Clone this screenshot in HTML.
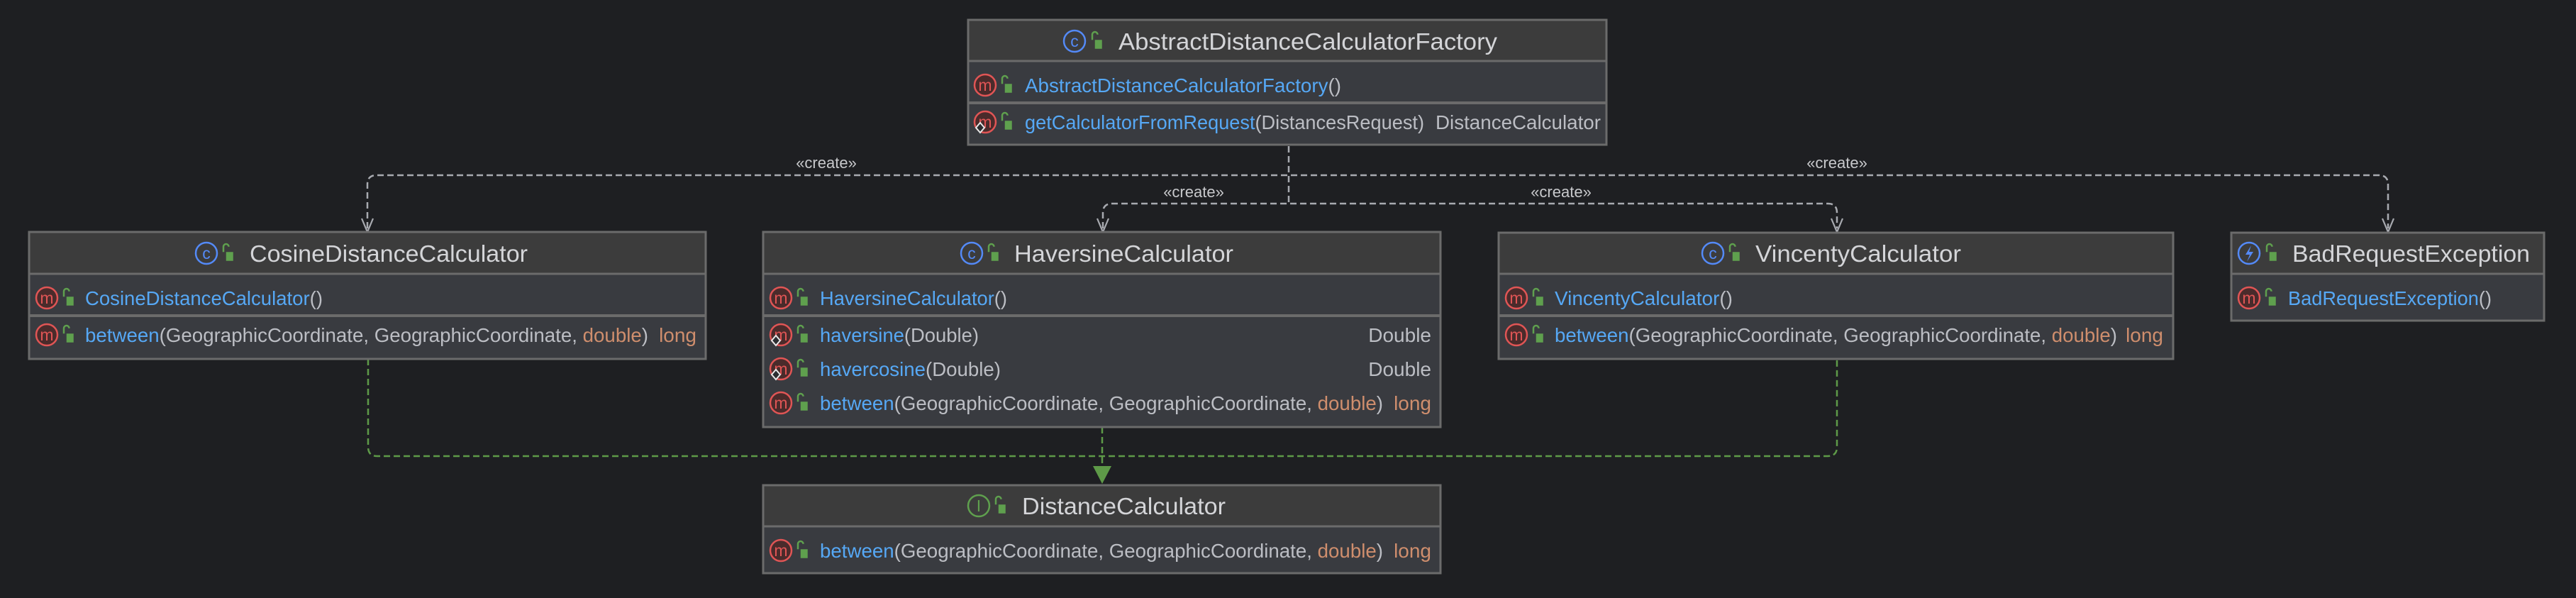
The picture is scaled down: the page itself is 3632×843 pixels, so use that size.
<!DOCTYPE html>
<html><head><meta charset="utf-8"><style>
html,body{margin:0;padding:0;background:#1e1f22;width:3632px;height:843px;overflow:hidden}
svg{display:block}
text{font-family:"Liberation Sans",sans-serif}
.t{fill:#d4d5d8;font-size:33px}
.m{font-size:28px;fill:#bcbec4}
.b{fill:#56a8f5}
.o{fill:#cf8e6d}
.ic{fill:#4a2b2b;stroke:#e05555;stroke-width:2.5}
.il{fill:#e05555;font-size:23px}
.cc{fill:none;stroke:#548af7;stroke-width:2.5}
.cl{fill:#548af7;font-size:23px}
.dw{fill:none;stroke:#a8aab0;stroke-width:2.5;stroke-dasharray:9 5}
.dg{fill:none;stroke:#5e9a48;stroke-width:2.5;stroke-dasharray:9 5}
.ar{fill:none;stroke:#a8aab0;stroke-width:2.2}
.lab{fill:#c8c9cc;font-size:22px}
</style></head><body>
<svg width="3632" height="843" viewBox="0 0 3632 843" xmlns="http://www.w3.org/2000/svg">
<defs>
<g id="lock" transform="scale(1.25)"><path d="M-4,-3 v-6 a3,3 0 0 1 6,0" fill="none" stroke="#5fa04e" stroke-width="2"/><rect x="-1" y="-3" width="8" height="10" fill="#5fa04e"/></g>
<g id="mi"><circle r="15" class="ic"/><text y="8" text-anchor="middle" class="il">m</text></g>
<g id="dia"><path d="M0,-7 L6,0 L0,7 L-6,0 Z" fill="#2b2d30" stroke="#e8e8e8" stroke-width="2"/></g>
</defs>

<path class="dw" d="M1817,206 V287"/>
<path class="dw" d="M518,322 V260 Q518,247 531,247 H3354 Q3367,247 3367,260 V322"/>
<path class="dw" d="M1555,322 V300 Q1555,287 1568,287 H2577 Q2590,287 2590,300 V322"/>
<path class="ar" d="M510,308 L518,327 L526,308"/>
<path class="ar" d="M1547,308 L1555,327 L1563,308"/>
<path class="ar" d="M2582,308 L2590,327 L2598,308"/>
<path class="ar" d="M3359,308 L3367,327 L3375,308"/>
<text class="lab" x="1165" y="237" text-anchor="middle">«create»</text>
<text class="lab" x="1683" y="278" text-anchor="middle">«create»</text>
<text class="lab" x="2201" y="278" text-anchor="middle">«create»</text>
<text class="lab" x="2590" y="237" text-anchor="middle">«create»</text>

<path class="dg" d="M519,506 V630 Q519,643 532,643 H2577 Q2590,643 2590,630 V506"/>
<path class="dg" d="M1554,602 V660"/>
<path d="M1541,657 L1567,657 L1554,682 Z" fill="#5e9a48"/>

<rect x="1365" y="28" width="900" height="176" fill="#393b40" stroke="#6b6b6b" stroke-width="3"/>
<rect x="1366.5" y="29.5" width="897" height="56" fill="#3c3c3c"/>
<line x1="1365" y1="86" x2="2265" y2="86" stroke="#6b6b6b" stroke-width="3"/>
<line x1="1365" y1="145" x2="2265" y2="145" stroke="#6b6b6b" stroke-width="4"/>
<circle cx="1515" cy="58" r="15" class="cc"/><text x="1515" y="66" text-anchor="middle" class="cl">c</text>
<use href="#lock" x="1545" y="60"/>
<text class="t" x="1577" y="70" textLength="534" lengthAdjust="spacingAndGlyphs">AbstractDistanceCalculatorFactory</text>
<use href="#mi" x="1389" y="120"/><use href="#lock" x="1418" y="122"/>
<text class="m" x="1445" y="130" textLength="446" lengthAdjust="spacingAndGlyphs"><tspan class="b">AbstractDistanceCalculatorFactory</tspan>()</text>
<use href="#mi" x="1389" y="172"/><use href="#dia" x="1382" y="180"/><use href="#lock" x="1418" y="174"/>
<text class="m" x="1445" y="182" textLength="563" lengthAdjust="spacingAndGlyphs"><tspan class="b">getCalculatorFromRequest</tspan>(DistancesRequest)</text>
<text class="m" x="2257" y="182" text-anchor="end" textLength="233" lengthAdjust="spacingAndGlyphs">DistanceCalculator</text>

<rect x="41" y="327" width="954" height="179" fill="#393b40" stroke="#6b6b6b" stroke-width="3"/>
<rect x="42.5" y="328.5" width="951" height="57" fill="#3c3c3c"/>
<line x1="41" y1="386" x2="995" y2="386" stroke="#6b6b6b" stroke-width="3"/>
<line x1="41" y1="445" x2="995" y2="445" stroke="#6b6b6b" stroke-width="4"/>
<circle cx="291" cy="357" r="15" class="cc"/><text x="291" y="365" text-anchor="middle" class="cl">c</text>
<use href="#lock" x="320" y="359"/>
<text class="t" x="352" y="369" textLength="392" lengthAdjust="spacingAndGlyphs">CosineDistanceCalculator</text>
<use href="#mi" x="66" y="420"/><use href="#lock" x="95" y="422"/>
<text class="m" x="120" y="430" textLength="335" lengthAdjust="spacingAndGlyphs"><tspan class="b">CosineDistanceCalculator</tspan>()</text>
<use href="#mi" x="66" y="472"/><use href="#lock" x="95" y="474"/>
<text class="m" x="120" y="482" textLength="794" lengthAdjust="spacingAndGlyphs"><tspan class="b">between</tspan>(GeographicCoordinate, GeographicCoordinate, <tspan class="o">double</tspan>)</text>
<text class="m o" x="982" y="482" text-anchor="end">long</text>

<rect x="1076" y="327" width="955" height="275" fill="#393b40" stroke="#6b6b6b" stroke-width="3"/>
<rect x="1077.5" y="328.5" width="952" height="57" fill="#3c3c3c"/>
<line x1="1076" y1="386" x2="2031" y2="386" stroke="#6b6b6b" stroke-width="3"/>
<line x1="1076" y1="445" x2="2031" y2="445" stroke="#6b6b6b" stroke-width="4"/>
<circle cx="1370" cy="357" r="15" class="cc"/><text x="1370" y="365" text-anchor="middle" class="cl">c</text>
<use href="#lock" x="1399" y="359"/>
<text class="t" x="1430" y="369" textLength="309" lengthAdjust="spacingAndGlyphs">HaversineCalculator</text>
<use href="#mi" x="1101" y="420"/><use href="#lock" x="1130" y="422"/>
<text class="m" x="1156" y="430" textLength="264" lengthAdjust="spacingAndGlyphs"><tspan class="b">HaversineCalculator</tspan>()</text>
<use href="#mi" x="1101" y="472"/><use href="#dia" x="1094" y="480"/><use href="#lock" x="1130" y="474"/>
<text class="m" x="1156" y="482" textLength="224" lengthAdjust="spacingAndGlyphs"><tspan class="b">haversine</tspan>(Double)</text>
<text class="m" x="2018" y="482" text-anchor="end">Double</text>
<use href="#mi" x="1101" y="520"/><use href="#dia" x="1094" y="528"/><use href="#lock" x="1130" y="522"/>
<text class="m" x="1156" y="530" textLength="255" lengthAdjust="spacingAndGlyphs"><tspan class="b">havercosine</tspan>(Double)</text>
<text class="m" x="2018" y="530" text-anchor="end">Double</text>
<use href="#mi" x="1101" y="568"/><use href="#lock" x="1130" y="570"/>
<text class="m" x="1156" y="578" textLength="794" lengthAdjust="spacingAndGlyphs"><tspan class="b">between</tspan>(GeographicCoordinate, GeographicCoordinate, <tspan class="o">double</tspan>)</text>
<text class="m o" x="2018" y="578" text-anchor="end">long</text>

<rect x="2113" y="328" width="951" height="178" fill="#393b40" stroke="#6b6b6b" stroke-width="3"/>
<rect x="2114.5" y="329.5" width="948" height="56" fill="#3c3c3c"/>
<line x1="2113" y1="386" x2="3064" y2="386" stroke="#6b6b6b" stroke-width="3"/>
<line x1="2113" y1="445" x2="3064" y2="445" stroke="#6b6b6b" stroke-width="4"/>
<circle cx="2415" cy="357" r="15" class="cc"/><text x="2415" y="365" text-anchor="middle" class="cl">c</text>
<use href="#lock" x="2444" y="359"/>
<text class="t" x="2475" y="369" textLength="290" lengthAdjust="spacingAndGlyphs">VincentyCalculator</text>
<use href="#mi" x="2138" y="420"/><use href="#lock" x="2167" y="422"/>
<text class="m" x="2192" y="430" textLength="251" lengthAdjust="spacingAndGlyphs"><tspan class="b">VincentyCalculator</tspan>()</text>
<use href="#mi" x="2138" y="472"/><use href="#lock" x="2167" y="474"/>
<text class="m" x="2192" y="482" textLength="793" lengthAdjust="spacingAndGlyphs"><tspan class="b">between</tspan>(GeographicCoordinate, GeographicCoordinate, <tspan class="o">double</tspan>)</text>
<text class="m o" x="3050" y="482" text-anchor="end">long</text>

<rect x="3146" y="328" width="441" height="124" fill="#393b40" stroke="#6b6b6b" stroke-width="3"/>
<rect x="3147.5" y="329.5" width="438" height="56" fill="#3c3c3c"/>
<line x1="3146" y1="386" x2="3587" y2="386" stroke="#6b6b6b" stroke-width="3"/>
<circle cx="3171" cy="357" r="15" class="cc"/><path d="M3174,346 L3166,359 L3172,359 L3168,369 L3177,355 L3171,355 Z" fill="#548af7"/>
<use href="#lock" x="3201" y="359"/>
<text class="t" x="3232" y="369" textLength="335" lengthAdjust="spacingAndGlyphs">BadRequestException</text>
<use href="#mi" x="3171" y="420"/><use href="#lock" x="3200" y="422"/>
<text class="m" x="3226" y="430" textLength="287" lengthAdjust="spacingAndGlyphs"><tspan class="b">BadRequestException</tspan>()</text>

<rect x="1076" y="684" width="955" height="124" fill="#393b40" stroke="#6b6b6b" stroke-width="3"/>
<rect x="1077.5" y="685.5" width="952" height="56" fill="#3c3c3c"/>
<line x1="1076" y1="742" x2="2031" y2="742" stroke="#6b6b6b" stroke-width="3"/>
<circle cx="1380" cy="713" r="15" fill="none" stroke="#5fa04e" stroke-width="2.5"/><text x="1380" y="721" text-anchor="middle" style="fill:#5fa04e;font-size:23px">I</text>
<use href="#lock" x="1409" y="715"/>
<text class="t" x="1441" y="725" textLength="287" lengthAdjust="spacingAndGlyphs">DistanceCalculator</text>
<use href="#mi" x="1101" y="776"/><use href="#lock" x="1130" y="778"/>
<text class="m" x="1156" y="786" textLength="794" lengthAdjust="spacingAndGlyphs"><tspan class="b">between</tspan>(GeographicCoordinate, GeographicCoordinate, <tspan class="o">double</tspan>)</text>
<text class="m o" x="2018" y="786" text-anchor="end">long</text>
</svg>
</body></html>
